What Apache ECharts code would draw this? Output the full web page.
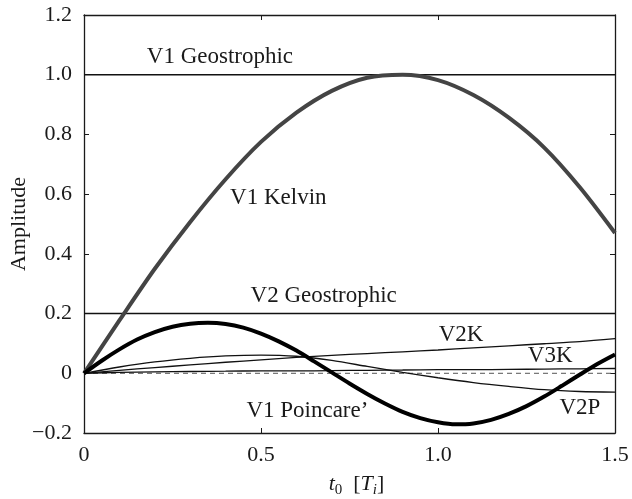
<!DOCTYPE html>
<html>
<head>
<meta charset="utf-8">
<script src="https://cdn.jsdelivr.net/npm/echarts@6/dist/echarts.min.js"></script>
<style>
  html, body { margin: 0; padding: 0; background: #fff; }
  #chart { width: 632px; height: 499px; }
</style>
</head>
<body>
<div id="chart"></div>
<script>
// time axis, in units of T_i
const tCoarse = [0, 0.1, 0.2, 0.3, 0.4, 0.5, 0.6, 0.7, 0.8, 0.9, 1.0, 1.1, 1.2, 1.3, 1.4, 1.5]
const tFine = [0, 0.05, 0.1, 0.15, 0.2, 0.25, 0.3, 0.35, 0.4, 0.45, 0.5, 0.55, 0.6, 0.65, 0.7, 0.75,
  0.8, 0.85, 0.9, 0.95, 1.0, 1.05, 1.1, 1.15, 1.2, 1.25, 1.3, 1.35, 1.4, 1.45, 1.5]

// amplitudes
const v1Kelvin = [0, 0.177, 0.35, 0.507, 0.65, 0.775, 0.873, 0.946, 0.99, 1.0, 0.982, 0.932, 0.856, 0.756, 0.624, 0.47]
const v1Poincare = [0, 0.042, 0.08, 0.113, 0.138, 0.156, 0.166, 0.169, 0.165, 0.153, 0.133, 0.107, 0.076, 0.04,
  0.003, -0.034, -0.069, -0.101, -0.129, -0.15, -0.164, -0.171, -0.168, -0.156, -0.136, -0.11, -0.078, -0.042,
  -0.005, 0.031, 0.063]
const v2K = [0, 0.01, 0.019, 0.028, 0.037, 0.045, 0.053, 0.06, 0.066, 0.072, 0.078, 0.085, 0.092, 0.099, 0.106, 0.116]
const v2P = [0, 0.021, 0.038, 0.05, 0.058, 0.061, 0.057, 0.043, 0.023, 0.003, -0.015, -0.031, -0.044, -0.055, -0.061, -0.063]
const v3K = [0, 0.003, 0.005, 0.006, 0.007, 0.008, 0.008, 0.009, 0.01, 0.011, 0.012, 0.012, 0.013, 0.014, 0.015, 0.016]
const v1Geostrophic = 1.0
const v2Geostrophic = 0.2

const xTickLabels = { '0': '0', '0.5': '0.5', '1': '1.0', '1.5': '1.5' }
const yTickLabels = { '-0.2': '\u22120.2', '0': '0', '0.2': '0.2', '0.4': '0.4', '0.6': '0.6', '0.8': '0.8', '1': '1.0', '1.2': '1.2' }

// annotation texts and where they sit, in data units
const noteTexts = ['V1 Geostrophic', 'V1 Kelvin', 'V2 Geostrophic', 'V2K', 'V3K', 'V2P', 'V1 Poincare\u2019']
const noteT = [0.384, 0.549, 0.677, 1.065, 1.317, 1.401, 0.631]
const noteV = [1.059, 0.587, 0.258, 0.129, 0.057, -0.115, -0.125]

const FONT = 'Liberation Serif'

function pairs(xs, ys) {
  return xs.map((x, i) => [x, ys[i]])
}

const chart = echarts.init(document.getElementById('chart'))

const axisLine = { show: true, onZero: false, lineStyle: { color: '#1a1a1a', width: 1.3 } }
const axisTick = { show: true, inside: true, length: 5, lineStyle: { color: '#1a1a1a', width: 1 } }

let option = {
  backgroundColor: '#fff',
  animation: false,
  grid: { left: 84, right: 17, top: 15, bottom: 66, containLabel: false, outerBoundsMode: 'none' },
  xAxis: [
    {
      type: 'value',
      min: 0,
      max: 1.5,
      interval: 0.5,
      axisLine: axisLine,
      axisTick: axisTick,
      splitLine: { show: false },
      axisLabel: {
        margin: 11,
        color: '#1a1a1a',
        fontFamily: FONT,
        fontSize: 22,
        formatter: v => xTickLabels[String(v)]
      },
      name: '{it|t}{sub|0}  [{it|T}{subi|i}]',
      nameLocation: 'middle',
      nameGap: 38,
      nameMoveOverlap: false,
      nameTextStyle: {
        color: '#1a1a1a',
        fontFamily: FONT,
        fontSize: 22,
        padding: [0, 0, 0, 14],
        rich: {
          it: { fontFamily: FONT, fontSize: 22, fontStyle: 'italic', color: '#1a1a1a' },
          sub: { fontFamily: FONT, fontSize: 15, color: '#1a1a1a', verticalAlign: 'bottom', padding: [12, 0, 0, 0] },
          subi: { fontFamily: FONT, fontSize: 15, fontStyle: 'italic', color: '#1a1a1a', verticalAlign: 'bottom', padding: [12, 0, 0, 0] }
        }
      }
    },
    {
      type: 'value',
      position: 'top',
      min: 0,
      max: 1.5,
      interval: 0.5,
      axisLine: axisLine,
      axisTick: axisTick,
      axisLabel: { show: false },
      splitLine: { show: false }
    }
  ],
  yAxis: [
    {
      type: 'value',
      min: -0.2,
      max: 1.2,
      interval: 0.2,
      axisLine: axisLine,
      axisTick: axisTick,
      splitLine: { show: false },
      axisLabel: {
        margin: 12,
        color: '#1a1a1a',
        fontFamily: FONT,
        fontSize: 22,
        formatter: v => yTickLabels[String(Math.round(v * 10) / 10)]
      },
      name: 'Amplitude',
      nameLocation: 'middle',
      nameRotate: 90,
      nameGap: 54,
      nameMoveOverlap: false,
      nameTextStyle: { color: '#1a1a1a', fontFamily: FONT, fontSize: 22 }
    },
    {
      type: 'value',
      position: 'right',
      min: -0.2,
      max: 1.2,
      interval: 0.2,
      axisLine: axisLine,
      axisTick: axisTick,
      axisLabel: { show: false },
      splitLine: { show: false }
    }
  ],
  series: [
    {
      name: 'zero',
      type: 'line',
      data: [[0, 0], [1.5, 0]],
      symbol: 'none',
      lineStyle: { color: '#555', width: 1, type: [5, 4] },
      z: 1
    },
    {
      name: 'V1 Geostrophic',
      type: 'line',
      data: [[0, v1Geostrophic], [1.5, v1Geostrophic]],
      symbol: 'none',
      lineStyle: { color: '#111', width: 1.5 },
      z: 2
    },
    {
      name: 'V2 Geostrophic',
      type: 'line',
      data: [[0, v2Geostrophic], [1.5, v2Geostrophic]],
      symbol: 'none',
      lineStyle: { color: '#111', width: 1.5 },
      z: 2
    },
    {
      name: 'V3K',
      type: 'line',
      data: pairs(tCoarse, v3K),
      smooth: 0.3,
      symbol: 'none',
      lineStyle: { color: '#111', width: 1.3 },
      z: 3
    },
    {
      name: 'V2K',
      type: 'line',
      data: pairs(tCoarse, v2K),
      smooth: 0.3,
      symbol: 'none',
      lineStyle: { color: '#111', width: 1.3 },
      z: 3
    },
    {
      name: 'V2P',
      type: 'line',
      data: pairs(tCoarse, v2P),
      smooth: 0.3,
      symbol: 'none',
      lineStyle: { color: '#111', width: 1.3 },
      z: 3
    },
    {
      name: 'V1 Kelvin',
      type: 'line',
      data: pairs(tCoarse, v1Kelvin),
      smooth: 0.3,
      symbol: 'none',
      lineStyle: { color: '#444', width: 4 },
      z: 4
    },
    {
      name: 'V1 Poincare',
      type: 'line',
      data: pairs(tFine, v1Poincare),
      smooth: 0.3,
      symbol: 'none',
      lineStyle: { color: '#000', width: 4 },
      z: 5
    }
  ]
}
chart.setOption(option)

// annotations placed through the chart's own coordinate system
const notes = noteTexts.map((text, i) => {
  const p = chart.convertToPixel({ gridIndex: 0 }, [noteT[i], noteV[i]])
  return {
    type: 'text',
    x: p[0],
    y: p[1],
    z: 10,
    style: {
      text: text,
      fill: '#1a1a1a',
      font: '23px "' + FONT + '"',
      align: 'center',
      verticalAlign: 'middle'
    }
  }
})
chart.setOption({ graphic: notes })
</script>
</body>
</html>
